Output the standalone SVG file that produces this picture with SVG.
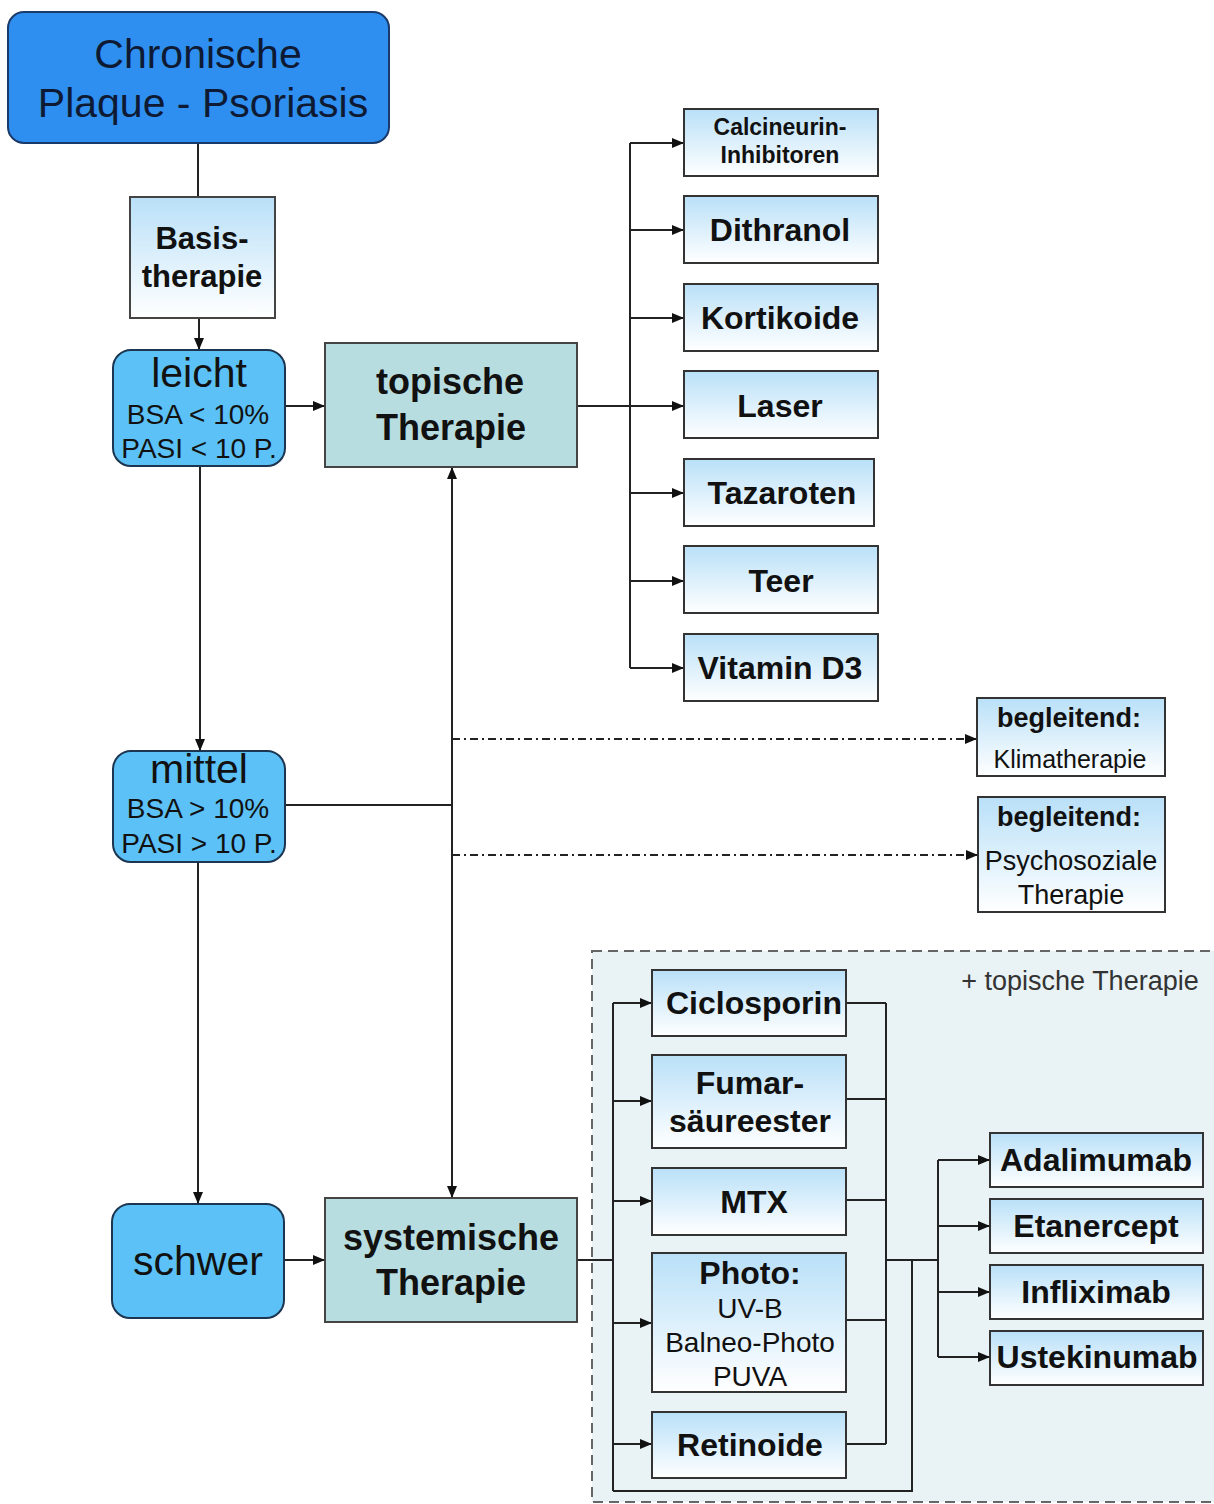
<svg xmlns="http://www.w3.org/2000/svg" width="1214" height="1504" viewBox="0 0 1214 1504">
<style>
text{font-family:"Liberation Sans",Arial,sans-serif;fill:#111;text-anchor:middle}
.b{font-weight:bold}
.drug{fill:url(#gd);stroke:#333;stroke-width:2}
.sev{fill:#5cc1f6;stroke:#1c3550;stroke-width:2}
.ther{fill:#b7dde0;stroke:#444;stroke-width:2}
.c{fill:none;stroke:#222;stroke-width:2}
.a{marker-end:url(#ar)}
.dd{stroke-dasharray:8 4 2 4}
</style>
<defs>
<linearGradient id="gd" x1="0" y1="0" x2="0" y2="1">
<stop offset="0" stop-color="#b9e0f8"/>
<stop offset="1" stop-color="#ffffff"/>
</linearGradient>
<marker id="ar" viewBox="0 0 12 10" refX="12" refY="5" markerWidth="12" markerHeight="10" markerUnits="userSpaceOnUse" orient="auto-start-reverse">
<path d="M0,0 L12,5 L0,10 z" fill="#111"/>
</marker>
</defs>
<rect id="container" x="592" y="951" width="626" height="551" fill="#e9f2f5" stroke="#666" stroke-width="2" stroke-dasharray="10 6"/>
<text x="1080" y="990" style="font-size:27px;fill:#333">+ topische Therapie</text>
<g id="connectors">
<line class="c" x1="198" y1="143" x2="198" y2="197"/>
<line class="c a" x1="199" y1="318" x2="199" y2="350"/>
<line class="c a" x1="200" y1="466" x2="200" y2="751"/>
<line class="c a" x1="198" y1="862" x2="198" y2="1204"/>
<line class="c a" x1="285" y1="406" x2="325" y2="406"/>
<line class="c a" x1="284" y1="1260" x2="325" y2="1260"/>
<line class="c" x1="577" y1="406" x2="630" y2="406"/>
<line class="c" x1="630" y1="143" x2="630" y2="668"/>
<line class="c a" x1="630" y1="143" x2="684" y2="143"/>
<line class="c a" x1="630" y1="230" x2="684" y2="230"/>
<line class="c a" x1="630" y1="318" x2="684" y2="318"/>
<line class="c a" x1="630" y1="406" x2="684" y2="406"/>
<line class="c a" x1="630" y1="493" x2="684" y2="493"/>
<line class="c a" x1="630" y1="581" x2="684" y2="581"/>
<line class="c a" x1="630" y1="668" x2="684" y2="668"/>
<line class="c" x1="285" y1="805" x2="452" y2="805"/>
<line class="c a" x1="452" y1="467" x2="452" y2="1198" style="marker-start:url(#ar)"/>
<line class="c a dd" x1="452" y1="739" x2="977" y2="739"/>
<line class="c a dd" x1="452" y1="855" x2="978" y2="855"/>
<line class="c" x1="577" y1="1260" x2="613" y2="1260"/>
<line class="c" x1="613" y1="1003" x2="613" y2="1491"/>
<line class="c a" x1="613" y1="1003" x2="652" y2="1003"/>
<line class="c a" x1="613" y1="1101" x2="652" y2="1101"/>
<line class="c a" x1="613" y1="1201" x2="652" y2="1201"/>
<line class="c a" x1="613" y1="1323" x2="652" y2="1323"/>
<line class="c a" x1="613" y1="1444" x2="652" y2="1444"/>
<polyline class="c" points="613,1491 912,1491 912,1260"/>
<line class="c" x1="846" y1="1003" x2="886" y2="1003"/>
<line class="c" x1="846" y1="1099" x2="886" y2="1099"/>
<line class="c" x1="846" y1="1200" x2="886" y2="1200"/>
<line class="c" x1="846" y1="1320" x2="886" y2="1320"/>
<line class="c" x1="846" y1="1444" x2="886" y2="1444"/>
<line class="c" x1="886" y1="1003" x2="886" y2="1444"/>
<line class="c" x1="886" y1="1260" x2="938" y2="1260"/>
<line class="c" x1="938" y1="1160" x2="938" y2="1357"/>
<line class="c a" x1="938" y1="1160" x2="990" y2="1160"/>
<line class="c a" x1="938" y1="1226" x2="990" y2="1226"/>
<line class="c a" x1="938" y1="1292" x2="990" y2="1292"/>
<line class="c a" x1="938" y1="1357" x2="990" y2="1357"/>
</g>
<g id="chronische">
<rect x="8" y="12" width="381" height="131" rx="16" fill="#2f8ff0" stroke="#1a3a6a" stroke-width="2"/>
<text x="198" y="68" style="font-size:41px;fill:#0e1a33">Chronische</text>
<text x="203" y="117" style="font-size:41px;fill:#0e1a33">Plaque - Psoriasis</text>
</g>
<g id="basis">
<rect x="130" y="197" width="145" height="121" fill="url(#gd)" stroke="#444" stroke-width="2"/>
<text class="b" x="202" y="249" style="font-size:31px">Basis-</text>
<text class="b" x="202" y="287" style="font-size:31px">therapie</text>
</g>
<g id="leicht">
<rect class="sev" x="113" y="350" width="172" height="116" rx="18"/>
<text x="199" y="387" style="font-size:41px">leicht</text>
<text x="198" y="424" style="font-size:28px">BSA &lt; 10%</text>
<text x="199" y="458" style="font-size:28px">PASI &lt; 10 P.</text>
</g>
<g id="mittel">
<rect class="sev" x="113" y="751" width="172" height="111" rx="18"/>
<text x="199" y="783" style="font-size:41px">mittel</text>
<text x="198" y="818" style="font-size:28px">BSA &gt; 10%</text>
<text x="199" y="853" style="font-size:28px">PASI &gt; 10 P.</text>
</g>
<g id="schwer">
<rect class="sev" x="112" y="1204" width="172" height="114" rx="18"/>
<text x="198" y="1275" style="font-size:41px">schwer</text>
</g>
<g id="topische">
<rect class="ther" x="325" y="343" width="252" height="124"/>
<text class="b" x="450" y="394" style="font-size:36px">topische</text>
<text class="b" x="451" y="440" style="font-size:36px">Therapie</text>
</g>
<g id="systemische">
<rect class="ther" x="325" y="1198" width="252" height="124"/>
<text class="b" x="451" y="1250" style="font-size:36px">systemische</text>
<text class="b" x="451" y="1295" style="font-size:36px">Therapie</text>
</g>
<g id="calcineurin">
<rect class="drug" x="684" y="109" width="194" height="67"/>
<text class="b" x="780" y="135" style="font-size:23px">Calcineurin-</text>
<text class="b" x="780" y="163" style="font-size:23px">Inhibitoren</text>
</g>
<g id="dithranol">
<rect class="drug" x="684" y="196" width="194" height="67"/>
<text class="b" x="780" y="241" style="font-size:32px">Dithranol</text>
</g>
<g id="kortikoide">
<rect class="drug" x="684" y="284" width="194" height="67"/>
<text class="b" x="780" y="329" style="font-size:32px">Kortikoide</text>
</g>
<g id="laser">
<rect class="drug" x="684" y="371" width="194" height="67"/>
<text class="b" x="780" y="417" style="font-size:32px">Laser</text>
</g>
<g id="tazaroten">
<rect class="drug" x="684" y="459" width="190" height="67"/>
<text class="b" x="782" y="504" style="font-size:32px">Tazaroten</text>
</g>
<g id="teer">
<rect class="drug" x="684" y="546" width="194" height="67"/>
<text class="b" x="781" y="592" style="font-size:32px">Teer</text>
</g>
<g id="vitamind3">
<rect class="drug" x="684" y="634" width="194" height="67"/>
<text class="b" x="780" y="679" style="font-size:32px">Vitamin D3</text>
</g>
<g id="klimatherapie">
<rect class="drug" x="977" y="698" width="188" height="78"/>
<text class="b" x="1069" y="727" style="font-size:27px">begleitend:</text>
<text x="1070" y="768" style="font-size:25px">Klimatherapie</text>
</g>
<g id="psychosoziale">
<rect class="drug" x="978" y="797" width="187" height="115"/>
<text class="b" x="1069" y="826" style="font-size:27px">begleitend:</text>
<text x="1071" y="870" style="font-size:27px">Psychosoziale</text>
<text x="1071" y="904" style="font-size:27px">Therapie</text>
</g>
<g id="ciclosporin">
<rect class="drug" x="652" y="970" width="194" height="66"/>
<text class="b" x="754" y="1014" style="font-size:32px">Ciclosporin</text>
</g>
<g id="fumar">
<rect class="drug" x="652" y="1055" width="194" height="93"/>
<text class="b" x="750" y="1094" style="font-size:32px">Fumar-</text>
<text class="b" x="750" y="1132" style="font-size:32px">säureester</text>
</g>
<g id="mtx">
<rect class="drug" x="652" y="1168" width="194" height="67"/>
<text class="b" x="754" y="1213" style="font-size:32px">MTX</text>
</g>
<g id="photo">
<rect class="drug" x="652" y="1253" width="194" height="139"/>
<text class="b" x="750" y="1284" style="font-size:32px">Photo:</text>
<text x="750" y="1318" style="font-size:28px">UV-B</text>
<text x="750" y="1352" style="font-size:28px">Balneo-Photo</text>
<text x="750" y="1386" style="font-size:28px">PUVA</text>
</g>
<g id="retinoide">
<rect class="drug" x="652" y="1412" width="194" height="66"/>
<text class="b" x="750" y="1456" style="font-size:32px">Retinoide</text>
</g>
<g id="adalimumab">
<rect class="drug" x="990" y="1133" width="213" height="54"/>
<text class="b" x="1096" y="1171" style="font-size:32px">Adalimumab</text>
</g>
<g id="etanercept">
<rect class="drug" x="990" y="1199" width="213" height="54"/>
<text class="b" x="1096" y="1237" style="font-size:32px">Etanercept</text>
</g>
<g id="infliximab">
<rect class="drug" x="990" y="1265" width="213" height="54"/>
<text class="b" x="1096" y="1303" style="font-size:32px">Infliximab</text>
</g>
<g id="ustekinumab">
<rect class="drug" x="990" y="1331" width="213" height="54"/>
<text class="b" x="1097" y="1368" style="font-size:32px">Ustekinumab</text>
</g>
</svg>
